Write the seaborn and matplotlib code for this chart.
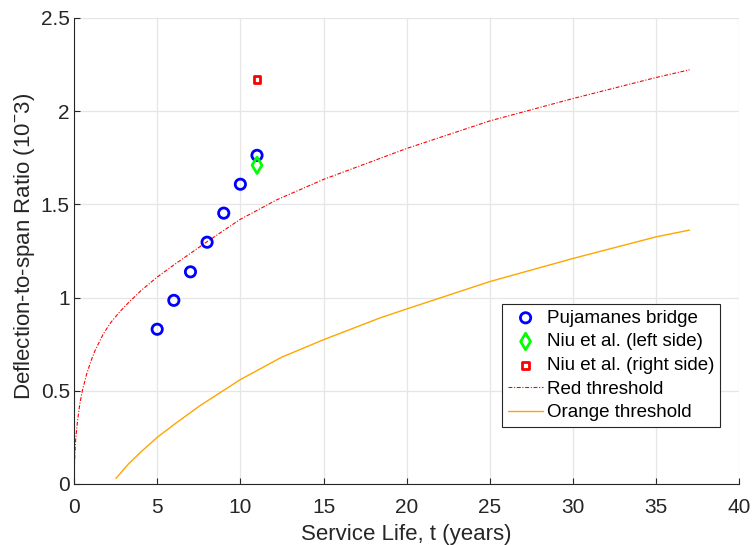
import matplotlib
matplotlib.use("Agg")
import matplotlib.pyplot as plt
import seaborn as sns

# --- dados --------------------------------------------------------------
anos_pujamanes = [5, 6, 7, 8, 9, 10, 11]
razao_pujamanes = [0.83, 0.985, 1.138, 1.297, 1.453, 1.608, 1.763]

anos_niu_esq = [11]
razao_niu_esq = [1.71]

anos_niu_dir = [11]
razao_niu_dir = [2.172]

t_vermelho = [0, 0.03, 0.1, 0.2, 0.35, 0.5, 0.76, 1.0, 1.26, 1.76, 2.2, 2.76, 3.3,
              4.06, 5, 6, 8, 10, 12.2, 15, 20, 25, 30, 35, 37]
y_vermelho = [0, 0.12, 0.24, 0.33, 0.43, 0.5, 0.59, 0.655, 0.715, 0.805, 0.865,
              0.925, 0.975, 1.04, 1.11, 1.175, 1.30, 1.42, 1.525, 1.634, 1.80,
              1.948, 2.068, 2.181, 2.222]

t_laranja = [2.52, 3.3, 4.06, 5, 6, 7.57, 10, 12.48, 15, 18.4, 20, 25, 30, 35, 37]
y_laranja = [0.03, 0.11, 0.175, 0.25, 0.318, 0.42, 0.56, 0.68, 0.774, 0.891, 0.939,
             1.086, 1.21, 1.326, 1.362]

# --- estilo ---------------------------------------------------------------
sns.set_theme(style="whitegrid")
plt.rcParams['font.family'] = ['Liberation Sans', 'DejaVu Sans']
plt.rcParams['mathtext.fontset'] = 'custom'
plt.rcParams['mathtext.rm'] = 'Liberation Sans'
plt.rcParams['mathtext.it'] = 'Liberation Sans'

cinza = '#262626'

fig = plt.figure(figsize=(7.53, 5.45), dpi=100)
ax = fig.add_axes([0.0983, 0.112, 0.8837, 0.855])
ax.set_facecolor('white')

# curvas limite
sns.lineplot(x=t_vermelho, y=y_vermelho, color='red', linewidth=0.8,
             sort=False, ax=ax)
linha_verm = ax.lines[-1]
linha_verm.set_dashes((3.5, 1.5, 1, 1.5))
sns.lineplot(x=t_laranja, y=y_laranja, color='#FFA500', linewidth=1.0,
             sort=False, ax=ax)
linha_lar = ax.lines[-1]

# pontos medidos
sns.scatterplot(x=anos_pujamanes, y=razao_pujamanes, marker='o', s=55,
                fc='none', ec='blue', linewidth=2.0, ax=ax, zorder=5)
pts_azul = ax.collections[-1]
sns.scatterplot(x=anos_niu_esq, y=razao_niu_esq, marker='d', s=70,
                fc='none', ec='#00FF00', linewidth=2.0, ax=ax, zorder=5)
pts_verde = ax.collections[-1]
sns.scatterplot(x=anos_niu_dir, y=razao_niu_dir, marker='s', s=24,
                fc='none', ec='red', linewidth=2.0, ax=ax, zorder=5)
pts_verm = ax.collections[-1]

# eixos
ax.set_xlim(0, 40)
ax.set_ylim(0, 2.5)
ax.set_xticks(range(0, 41, 5))
ax.set_yticks([0, 0.5, 1, 1.5, 2, 2.5])
ax.set_yticklabels(['0', '0.5', '1', '1.5', '2', '2.5'])
ax.grid(True, color='#e6e6e6', linewidth=0.9)
for lado in ['top', 'right']:
    ax.spines[lado].set_visible(False)
for lado in ['left', 'bottom']:
    ax.spines[lado].set_color(cinza)
    ax.spines[lado].set_linewidth(0.8)
ax.tick_params(direction='in', length=4, width=0.8, colors=cinza,
               labelsize=15, left=True, bottom=True)
ax.tick_params(axis='x', pad=10)
ax.tick_params(axis='y', pad=3)

ax.set_xlabel('Service Life, t (years)', fontsize=16, color=cinza, labelpad=5)
ax.set_ylabel('Deflection-to-span Ratio (10$^{-}$3)', fontsize=16, color=cinza)
ax.yaxis.set_label_coords(-0.056, 0.51)

leg = ax.legend([pts_azul, pts_verde, pts_verm, linha_verm, linha_lar],
                ['Pujamanes bridge', 'Niu et al. (left side)', 'Niu et al. (right side)',
                 'Red threshold', 'Orange threshold'],
                loc='lower right', bbox_to_anchor=(0.971, 0.122), borderaxespad=0,
                fontsize=13.5, frameon=True, fancybox=False, framealpha=1,
                edgecolor=cinza, handlelength=1.9, handletextpad=0.2,
                labelspacing=0.35, borderpad=0.3)
leg.get_frame().set_linewidth(0.8)
for txt in leg.get_texts():
    txt.set_color('black')

plt.savefig('out.png', dpi=100)
